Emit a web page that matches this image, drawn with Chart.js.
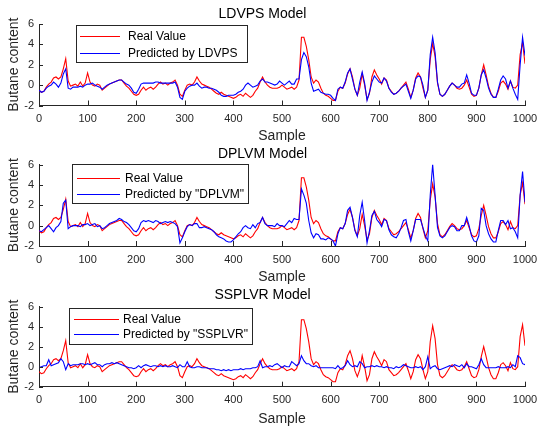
<!DOCTYPE html>
<html>
<head>
<meta charset="utf-8">
<script src="https://cdn.jsdelivr.net/npm/chart.js@4"></script>
<style>
  html, body { margin: 0; padding: 0; background: #fff; overflow: hidden; }
  canvas { display: block; }
</style>
</head>
<body>
<canvas id="c1" width="537" height="142"></canvas>
<canvas id="c2" width="537" height="142"></canvas>
<canvas id="c3" width="537" height="142"></canvas>
<script>
// values read every 5 samples, 0..1000
const realValue = [
  -0.5,-0.7,-0.6,-0.2,0.1,0.3,0.7,0.8,0.6,0.8, 1.6,2.6,0.4,-0.1,0.0,0.1,-0.1,0.3,-0.1,0.2,
  1.2,0.3,0.0,-0.1,0.1,0.0,-0.5,-0.3,-0.1,0.1, 0.2,0.3,0.4,0.5,0.5,0.2,-0.1,-0.3,-0.6,-0.9,
  -1.0,-0.9,-0.5,-0.2,-0.5,-0.3,-0.2,-0.4,-0.2,0.1, 0.3,0.1,0.2,0.0,0.2,0.3,0.5,0.0,-0.9,-1.1,
  -0.5,0.0,0.1,0.0,0.3,0.8,0.4,0.1,0.0,-0.1, -0.2,-0.4,-0.6,-0.8,-0.9,-0.7,-0.9,-1.0,-1.1,-1.2,
  -1.3,-1.2,-1.0,-0.9,-1.1,-0.8,-1.0,-1.2,-1.0,-0.6, -0.3,0.3,0.8,0.3,0.0,-0.2,-0.3,-0.3,-0.3,-0.2,
  0.0,-0.2,-0.4,-0.3,-0.2,-0.4,-0.2,0.5,4.7,4.7, 3.8,2.5,0.8,0.2,0.5,0.3,-0.3,-0.8,-1.0,-1.1,
  -1.3,-1.5,-1.5,-0.6,-0.2,-0.3,0.2,1.1,1.6,0.8, -0.4,-1.0,-0.3,1.1,0.0,-1.4,-0.8,0.8,1.5,1.0,
  0.6,0.1,0.7,0.5,-0.3,-0.6,-0.9,-0.8,-0.6,-0.3, 0.0,0.3,-0.4,-1.2,-0.5,0.7,1.2,0.8,-0.3,-1.2,
  -0.5,2.5,4.1,2.8,0.2,-0.9,-1.1,-0.9,-0.5,-0.1, 0.2,0.0,-0.3,-0.4,-0.3,0.0,0.5,-0.2,-0.9,-1.1,
  -1.0,-0.3,1.0,2.0,1.0,-0.1,-0.8,-1.2,-1.2,-0.6, 0.2,0.4,0.1,-0.4,0.4,-0.2,-0.3,0.0,3.0,4.2,
  2.1
];

const predLDVPS = [
  -0.5,-0.7,-0.6,-0.3,-0.1,0.0,0.3,0.1,-0.2,0.2, 1.1,1.6,-0.3,-0.4,-0.2,-0.2,-0.2,-0.1,-0.2,0.0,
  0.1,0.1,0.2,0.0,-0.1,-0.2,-0.4,-0.2,0.0,0.1, 0.2,0.3,0.4,0.5,0.5,0.3,0.1,0.0,-0.3,-0.7,
  -0.8,-0.4,0.1,0.2,0.2,0.2,0.2,0.2,0.3,0.3, 0.2,0.2,0.2,0.2,0.2,0.2,0.3,-0.2,-1.2,-1.4,
  -0.6,-0.3,-0.1,0.0,0.0,0.2,-0.1,-0.3,-0.2,-0.2, -0.3,-0.3,-0.4,-0.5,-0.7,-1.0,-1.1,-1.1,-1.0,-1.0,
  -1.0,-0.9,-0.7,-0.6,-0.4,0.0,0.2,0.0,-0.2,-0.1, 0.0,0.4,0.6,0.3,0.3,0.2,0.1,0.0,0.1,0.4,
  0.2,0.0,0.2,0.4,0.1,0.1,0.6,0.6,2.5,3.2, 2.8,1.8,0.2,-0.6,-0.5,-0.4,-0.7,-0.8,-0.9,-0.9,
  -1.0,-1.3,-1.5,-0.4,-0.2,-0.3,0.3,1.2,1.6,0.6, -0.4,-1.0,0.3,1.3,0.2,-1.5,-0.7,0.3,0.9,0.6,
  0.3,0.2,0.7,0.4,-0.3,-0.7,-0.9,-0.8,-0.6,-0.3, -0.1,0.1,-0.6,-1.3,-0.5,0.6,0.9,0.8,0.0,-1.2,
  -0.5,3.0,4.7,3.2,0.3,-0.9,-1.1,-0.9,-0.5,-0.1, 0.2,0.0,-0.2,-0.2,0.1,0.2,1.0,0.2,-0.8,-1.0,
  -1.0,-0.3,1.0,1.5,0.7,-0.3,-0.9,-1.2,-1.2,-0.4, 0.5,0.9,0.6,-0.3,0.4,-0.3,-0.9,-1.4,2.0,4.7,
  2.9
];

const predDPLVM = [
  -0.5,-0.6,-0.4,-0.2,0.0,-0.3,-0.6,-0.2,0.0,0.4, 2.2,2.5,-0.3,-0.1,0.0,0.0,0.0,-0.1,0.1,0.1,
  0.2,0.0,0.1,0.2,-0.1,0.0,-0.3,-0.2,0.0,0.2, 0.3,0.4,0.5,0.7,0.6,0.4,0.3,0.1,-0.2,-0.5,
  -0.6,-0.3,0.3,0.5,0.4,0.5,0.4,0.3,0.5,0.4, 0.2,0.3,0.4,0.3,0.4,0.3,0.2,-0.1,-1.7,-1.2,
  -0.6,-0.1,0.1,0.0,0.2,0.2,-0.2,-0.2,-0.1,-0.2, -0.3,-0.4,-0.6,-0.9,-1.1,-1.2,-1.3,-1.5,-1.6,-1.6,
  -1.4,-1.1,-0.8,-0.6,-0.2,0.0,-0.2,-0.3,0.1,-0.2, 0.2,0.3,0.8,0.2,0.0,0.0,0.0,-0.1,0.2,0.0,
  0.0,-0.1,0.2,0.5,0.3,0.7,0.6,0.6,3.6,3.0, 2.2,0.5,-0.7,-1.2,-0.8,-0.9,-1.3,-1.3,-1.4,-1.2,
  -1.3,-1.5,-2.0,-0.8,-0.2,-0.3,0.2,1.5,1.8,0.8, -0.5,-1.1,1.0,2.3,0.5,-1.7,-0.5,1.0,1.4,0.6,
  0.3,-0.1,0.6,0.5,-0.4,-0.9,-1.1,-1.2,-0.8,-0.2, 0.5,0.6,-0.6,-1.5,-0.5,0.6,0.6,0.6,-0.2,-1.0,
  -1.5,3.0,6.0,3.0,-0.2,-1.0,-1.2,-1.0,-0.6,-0.2, 0.0,-0.1,-0.5,-0.5,0.0,0.0,0.8,0.0,-1.0,-1.5,
  -1.6,-1.0,1.7,1.5,0.0,-0.8,-1.3,-1.6,-1.6,-0.5, 0.5,0.5,0.1,0.5,-0.3,-0.2,-0.6,-1.2,3.0,5.3,
  2.3
];

const predSSPLVR = [
  -0.1,0.0,0.1,0.1,0.7,0.1,0.2,0.3,0.4,0.8, 0.5,-0.3,0.3,0.1,0.2,0.2,0.2,0.3,0.3,0.2,
  0.3,0.2,0.3,0.4,0.2,0.2,0.0,0.2,0.3,0.3, 0.4,0.3,0.4,0.3,0.2,0.1,0.0,-0.1,-0.1,-0.2,
  -0.1,0.1,-0.1,0.1,0.2,0.1,0.0,0.1,0.1,0.0, 0.1,0.0,0.1,0.0,0.0,0.1,0.0,-0.1,0.2,0.0,
  0.0,0.5,0.0,-0.1,-0.1,0.0,0.0,-0.1,-0.1,-0.1, -0.2,-0.2,-0.2,-0.3,-0.3,-0.4,-0.3,-0.4,-0.3,-0.4,
  -0.3,-0.3,-0.3,-0.2,-0.3,-0.2,-0.2,-0.2,-0.1,-0.1, 0.0,0.6,-0.1,0.0,0.0,0.1,0.0,0.2,0.3,0.1,
  -0.1,0.1,0.0,0.0,0.5,0.3,0.1,0.3,1.1,0.6, 0.3,0.3,0.1,0.0,0.1,-0.1,-0.1,-0.1,-0.1,-0.1,
  -0.1,-0.1,-0.2,0.1,-0.2,-0.1,0.1,0.6,0.2,0.0, 0.1,0.0,0.5,0.3,-0.1,0.0,0.0,0.1,0.0,0.1,
  0.0,0.0,-0.1,0.0,-0.1,-0.1,-0.2,0.0,-0.1,0.0, 0.2,0.1,0.0,-0.1,-0.1,0.0,-0.1,0.0,-0.3,0.0,
  1.0,-0.2,0.0,0.1,-0.2,-0.3,-0.2,-0.1,0.0,0.1, 0.0,0.2,0.1,0.0,0.2,-0.1,0.3,0.0,0.0,-0.1,
  -0.2,0.2,0.8,0.2,-0.1,-0.1,-0.1,-0.1,-0.1,0.0, -0.1,-0.1,-0.1,0.0,-0.1,0.2,0.0,1.1,0.9,0.3,
  0.2
];

// sample index for each value above
const sample = realValue.map((v, i) => i * 5);

const FONT = "'Liberation Sans', Arial, Helvetica, sans-serif";
const AXIS = '#262626';

// MATLAB style ticks pointing inward
const inTicks = {
  id: 'inTicks',
  afterDraw(chart) {
    const { ctx, chartArea, scales } = chart;
    ctx.save();
    ctx.strokeStyle = AXIS;
    ctx.lineWidth = 1;
    ctx.beginPath();
    scales.x.ticks.forEach(t => {
      const px = Math.round(scales.x.getPixelForValue(t.value)) + 0.5;
      ctx.moveTo(px, chartArea.bottom);
      ctx.lineTo(px, chartArea.bottom - 5);
    });
    scales.y.ticks.forEach(t => {
      const py = Math.round(scales.y.getPixelForValue(t.value)) + 0.5;
      ctx.moveTo(chartArea.left, py);
      ctx.lineTo(chartArea.left + 4, py);
    });
    ctx.stroke();
    ctx.restore();
  }
};

// boxed legend inside the plot
const boxLegend = {
  id: 'boxLegend',
  afterDraw(chart, args, opts) {
    const ctx = chart.ctx;
    const [x0, y0, x1, y1] = opts.box;
    ctx.save();
    ctx.fillStyle = '#fff';
    ctx.fillRect(x0, y0, x1 - x0, y1 - y0);
    ctx.strokeStyle = AXIS;
    ctx.lineWidth = 1;
    ctx.strokeRect(Math.round(x0) + 0.5, Math.round(y0) + 0.5, Math.round(x1 - x0), Math.round(y1 - y0));
    ctx.font = '12px ' + FONT;
    ctx.textBaseline = 'middle';
    chart.data.datasets.forEach((ds, i) => {
      const y = Math.round(opts.rows[i]) + 0.5;
      ctx.strokeStyle = ds.borderColor;
      ctx.beginPath();
      ctx.moveTo(opts.lineX[0], y);
      ctx.lineTo(opts.lineX[1], y);
      ctx.stroke();
      ctx.fillStyle = '#000';
      ctx.fillText(ds.label, opts.textX, y);
    });
    ctx.restore();
  }
};

function makeChart(id, title, predLabel, pred, lay) {
  const ctx = document.getElementById(id).getContext('2d');
  return new Chart(ctx, {
    type: 'line',
    data: {
      datasets: [{
        label: 'Real Value',
        data: sample.map((s, i) => ({ x: s, y: realValue[i] })),
        borderColor: '#ff0000',
        borderWidth: 1.1,
        pointRadius: 0,
        order: 1
      }, {
        label: predLabel,
        data: sample.map((s, i) => ({ x: s, y: pred[i] })),
        borderColor: '#0000ff',
        borderWidth: 1.1,
        pointRadius: 0,
        order: 0
      }]
    },
    options: {
      responsive: false,
      animation: false,
      layout: { padding: { left: 0, right: 12, top: 0, bottom: 0 } },
      plugins: {
        legend: { display: false },
        tooltip: { enabled: false },
        title: {
          display: true,
          text: title,
          color: '#000',
          font: { family: FONT, size: 14, weight: 'normal' },
          padding: lay.titlePad
        },
        boxLegend: lay.legend
      },
      scales: {
        x: {
          type: 'linear',
          min: 0,
          max: 1000,
          grid: { display: false, drawTicks: false },
          border: { display: true, color: AXIS, width: 1 },
          ticks: {
            stepSize: 100, color: AXIS, padding: 7, maxRotation: 0,
            font: { family: FONT, size: 11 },
            callback: v => String(v)
          },
          title: { display: true, text: 'Sample', color: AXIS, padding: { top: 0, bottom: lay.xTitlePad }, font: { family: FONT, size: 14 } },
          afterFit(scale) {
            scale.height = lay.xHeight;
            scale.paddingLeft = 0;
            scale.paddingRight = 0;
          }
        },
        y: {
          min: -2,
          max: 6,
          grid: { display: false, drawTicks: false },
          border: { display: true, color: AXIS, width: 1 },
          ticks: { stepSize: 2, color: AXIS, padding: 5, font: { family: FONT, size: 11 } },
          title: { display: true, text: 'Butane content', color: AXIS, padding: { top: 5.6, bottom: 0 }, font: { family: FONT, size: 14 } },
          afterFit(scale) {
            scale.width = 39;
            scale.paddingTop = 0;
            scale.paddingBottom = 0;
          }
        }
      }
    },
    plugins: [inTicks, boxLegend]
  });
}

makeChart('c1', 'LDVPS Model', 'Predicted by LDVPS', predLDVPS, {
  titlePad: { top: 5.6, bottom: 1.6 }, xHeight: 36.5, xTitlePad: -3,
  legend: { box: [76, 25, 247, 62], rows: [36, 52.5], lineX: [80, 120], textX: 128 }
});
makeChart('c2', 'DPLVM Model', 'Predicted by "DPLVM"', predDPLVM, {
  titlePad: { top: 3.6, bottom: 2.1 }, xHeight: 38, xTitlePad: -2,
  legend: { box: [72, 22, 248, 61], rows: [36, 52], lineX: [77, 120], textX: 125 }
});
makeChart('c3', 'SSPLVR Model', 'Predicted by "SSPLVR"', predSSPLVR, {
  titlePad: { top: 2.6, bottom: 3.3 }, xHeight: 39.3, xTitlePad: -2,
  legend: { box: [69, 24, 252, 60], rows: [35, 50], lineX: [74, 119], textX: 123 }
});
</script>
</body>
</html>
